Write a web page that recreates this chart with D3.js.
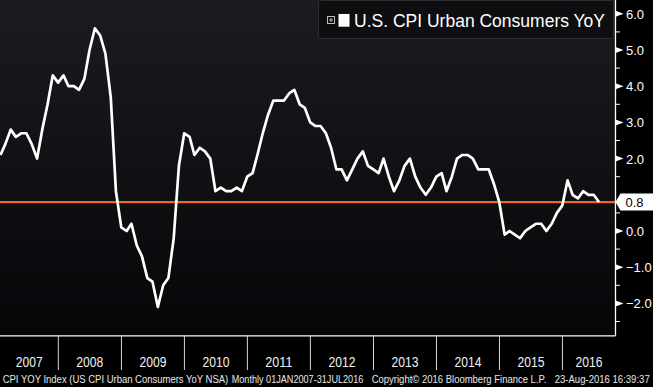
<!DOCTYPE html>
<html>
<head>
<meta charset="utf-8">
<script src="https://cdn.jsdelivr.net/npm/d3@7"></script>
<style>
  html, body { margin: 0; padding: 0; background: #000; }
  svg { display: block; }
</style>
</head>
<body>
<svg id="chart" width="653" height="387"></svg>
<script>
// ---------------- DATA ----------------
const seriesName = "U.S. CPI Urban Consumers YoY";
const firstMonth = "2007-01";   // monthly observations, month-end
const cpiYoY = [
  // 2007
  2.1, 2.4, 2.8, 2.6, 2.7, 2.7, 2.4, 2.0, 2.8, 3.5, 4.3, 4.1,
  // 2008
  4.3, 4.0, 4.0, 3.9, 4.2, 5.0, 5.6, 5.4, 4.9, 3.7, 1.1, 0.1,
  // 2009
  0.0, 0.2, -0.4, -0.7, -1.3, -1.4, -2.1, -1.5, -1.3, -0.2, 1.8, 2.7,
  // 2010
  2.6, 2.1, 2.3, 2.2, 2.0, 1.1, 1.2, 1.1, 1.1, 1.2, 1.1, 1.5,
  // 2011
  1.6, 2.1, 2.7, 3.2, 3.6, 3.6, 3.6, 3.8, 3.9, 3.5, 3.4, 3.0,
  // 2012
  2.9, 2.9, 2.7, 2.3, 1.7, 1.7, 1.4, 1.7, 2.0, 2.2, 1.8, 1.7,
  // 2013
  1.6, 2.0, 1.5, 1.1, 1.4, 1.8, 2.0, 1.5, 1.2, 1.0, 1.2, 1.5,
  // 2014
  1.6, 1.1, 1.5, 2.0, 2.1, 2.1, 2.0, 1.7, 1.7, 1.7, 1.3, 0.8,
  // 2015
  -0.1, 0.0, -0.1, -0.2, 0.0, 0.1, 0.2, 0.2, 0.0, 0.2, 0.5, 0.7,
  // 2016
  1.4, 1.0, 0.9, 1.1, 1.0, 1.0, 0.8
];
const lastValue = 0.8;
const yearLabels = ["2007","2008","2009","2010","2011","2012","2013","2014","2015","2016"];
const yMajorTicks = [-2, -1, 0, 1, 2, 3, 4, 5, 6];
const yMinorTicks = [-2.5, -1.5, -0.5, 0.5, 1.5, 2.5, 3.5, 4.5, 5.5];
const footerParts = [
  "CPI YOY Index (US CPI Urban Consumers YoY NSA)",
  "Monthly 01JAN2007-31JUL2016",
  "Copyright\u00A9 2016 Bloomberg Finance L.P.",
  "23-Aug-2016 16:39:37"
];

// ---------------- LAYOUT ----------------
const W = 653, H = 387;
const plot = { left: 0, top: 0, right: 615.5, bottom: 335.8 };
const svg = d3.select("#chart");

const parseMonth = d3.utcParse("%Y-%m");
const start = parseMonth(firstMonth);
const data = cpiYoY.map((v, i) => {
  const m = d3.utcMonth.offset(start, i + 1);       // first day of next month
  return { date: d3.utcDay.offset(m, -1), value: v }; // month-end
});

const x = d3.scaleUtc()
  .domain([data[0].date, data[data.length - 1].date])
  .range([0.5, 599]);
const y = d3.scaleLinear().domain([-2, 6]).range([303.4, 13.8]);

// background gradient
const defs = svg.append("defs");
const grad = defs.append("linearGradient").attr("id", "bg")
  .attr("x1", 0).attr("y1", 0).attr("x2", 0).attr("y2", 1);
grad.append("stop").attr("offset", "0%").attr("stop-color", "#1c1c20");
grad.append("stop").attr("offset", "100%").attr("stop-color", "#060609");

svg.append("rect").attr("x", 0).attr("y", 0).attr("width", W).attr("height", H).attr("fill", "#000");
svg.append("rect")
  .attr("x", plot.left).attr("y", plot.top)
  .attr("width", plot.right - plot.left).attr("height", plot.bottom - plot.top)
  .attr("fill", "url(#bg)");

defs.append("clipPath").attr("id", "clip").append("rect")
  .attr("x", plot.left).attr("y", plot.top)
  .attr("width", plot.right - plot.left).attr("height", plot.bottom - plot.top);

const g = svg.append("g").attr("clip-path", "url(#clip)");

// reference line at last value
g.append("line")
  .attr("x1", plot.left).attr("x2", plot.right)
  .attr("y1", y(lastValue)).attr("y2", y(lastValue))
  .attr("stroke", "#f0652a").attr("stroke-width", 2.2);

// series line
const line = d3.line().x(d => x(d.date)).y(d => y(d.value));
g.append("path").datum(data)
  .attr("d", line)
  .attr("fill", "none")
  .attr("stroke", "#ffffff")
  .attr("stroke-width", 2.7)
  .attr("stroke-linejoin", "round");

// plot frame (right + bottom)
svg.append("line").attr("x1", plot.right).attr("x2", plot.right)
  .attr("y1", 0).attr("y2", plot.bottom)
  .attr("stroke", "#fff").attr("stroke-width", 1.3);
svg.append("line").attr("x1", 0).attr("x2", plot.right)
  .attr("y1", plot.bottom).attr("y2", plot.bottom)
  .attr("stroke", "#fff").attr("stroke-width", 1.3);

// right axis
const ly = y(lastValue);
const visibleMajor = yMajorTicks.filter(d => Math.abs(y(d) - ly) > 12);
const axisG = svg.append("g").attr("transform", `translate(${plot.right},0)`);
axisG.selectAll("path.tri").data(visibleMajor).enter().append("path")
  .attr("class", "tri")
  .attr("d", d => `M0,${y(d) - 3} L8,${y(d)} L0,${y(d) + 3} Z`)
  .attr("fill", "#fff");
axisG.selectAll("line.minor").data(yMinorTicks).enter().append("line")
  .attr("class", "minor")
  .attr("x1", 0).attr("x2", 4.5)
  .attr("y1", d => y(d)).attr("y2", d => y(d))
  .attr("stroke", "#fff").attr("stroke-width", 1);
axisG.selectAll("text.tl").data(visibleMajor).enter().append("text")
  .attr("class", "tl")
  .attr("x", 10.5)
  .attr("y", d => y(d) + 5)
  .attr("fill", "#fff")
  .attr("font-family", "Liberation Sans, Arial, sans-serif")
  .attr("font-size", 13)
  .text(d => d3.format(".1f")(d).replace("-", "\u2212"));

// last value tag
axisG.append("path")
  .attr("d", `M0,${ly} L5,${ly - 8.5} L38,${ly - 8.5} L38,${ly + 8.5} L5,${ly + 8.5} Z`)
  .attr("fill", "#fff");
axisG.append("text")
  .attr("x", 10).attr("y", ly + 5)
  .attr("fill", "#000")
  .attr("font-family", "Liberation Sans, Arial, sans-serif")
  .attr("font-size", 13)
  .text(d3.format(".1f")(lastValue));

// bottom: year separators and labels
const yearStarts = yearLabels.map(yr => d3.utcParse("%Y")(yr));
const bottomG = svg.append("g");
bottomG.selectAll("line.sep").data(yearStarts.slice(1)).enter().append("line")
  .attr("class", "sep")
  .attr("x1", d => x(d)).attr("x2", d => x(d))
  .attr("y1", plot.bottom).attr("y2", 370)
  .attr("stroke", "#d8d8d8").attr("stroke-width", 1);
bottomG.selectAll("text.yr").data(yearLabels).enter().append("text")
  .attr("class", "yr")
  .attr("x", (d, i) => {
    const a = Math.max(plot.left, x(yearStarts[i]));
    const b = i + 1 < yearStarts.length ? x(yearStarts[i + 1]) : plot.right;
    return (a + Math.min(b, plot.right)) / 2;
  })
  .attr("y", 367.3)
  .attr("text-anchor", "middle")
  .attr("fill", "#f0f0f0")
  .attr("font-family", "Liberation Sans, Arial, sans-serif")
  .attr("font-size", 14)
  .attr("textLength", 27)
  .attr("lengthAdjust", "spacingAndGlyphs")
  .text(d => d);

// footer
const footerPos = [[2.7, 225.5], [231.7, 131.6], [371.7, 174.6], [554.7, 95]];
svg.selectAll("text.ft").data(footerParts).enter().append("text")
  .attr("class", "ft")
  .attr("x", (d, i) => footerPos[i][0])
  .attr("y", 383.3)
  .attr("fill", "#e8e8e8")
  .attr("font-family", "Liberation Sans, Arial, sans-serif")
  .attr("font-size", 10)
  .attr("textLength", (d, i) => footerPos[i][1])
  .attr("lengthAdjust", "spacingAndGlyphs")
  .text(d => d);

// legend
const lg = svg.append("g");
lg.append("rect")
  .attr("x", 318.5).attr("y", 0.5).attr("width", 295).attr("height", 38)
  .attr("rx", 2)
  .attr("fill", "#0e0e11").attr("stroke", "#2c2c31").attr("stroke-width", 1);
lg.append("rect")
  .attr("x", 327.5).attr("y", 16.5).attr("width", 7).attr("height", 7)
  .attr("fill", "none").attr("stroke", "#bdbdbd").attr("stroke-width", 1);
lg.append("path")
  .attr("d", "M329,20 L333,20 M331,18 L331,22")
  .attr("stroke", "#bdbdbd").attr("stroke-width", 1);
lg.append("rect")
  .attr("x", 338.5).attr("y", 14).attr("width", 11).attr("height", 12.7)
  .attr("fill", "#fff");
lg.append("text")
  .attr("x", 354).attr("y", 27)
  .attr("fill", "#fff")
  .attr("font-family", "Liberation Sans, Arial, sans-serif")
  .attr("font-size", 18.3)
  .attr("textLength", 251)
  .attr("lengthAdjust", "spacingAndGlyphs")
  .text(seriesName);
</script>
</body>
</html>
